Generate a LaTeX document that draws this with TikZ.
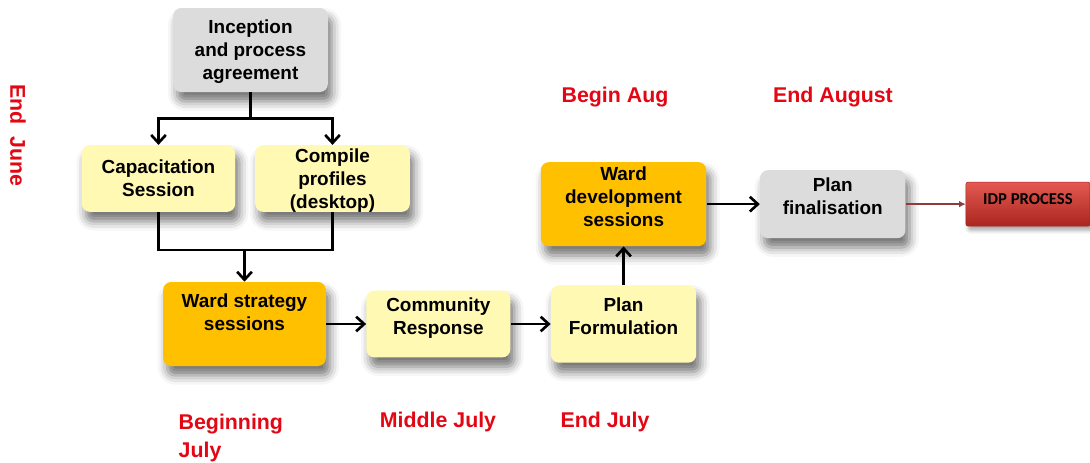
\documentclass[tikz,border=0pt]{standalone}
\usepackage{fontspec}
\setmainfont{Liberation Sans}
\newfontfamily\calibri{Carlito}
\usetikzlibrary{arrows.meta,positioning,shadows.blur}
\definecolor{stepgray}{HTML}{DCDCDC}
\definecolor{stepyellow}{HTML}{FFF9B4}
\definecolor{steporange}{HTML}{FFC000}
\definecolor{idptop}{HTML}{E45A52}
\definecolor{idpbottom}{HTML}{A9261F}
\definecolor{datered}{HTML}{E30613}
\definecolor{linkred}{HTML}{8E3B3B}

\begin{document}
\begin{tikzpicture}[x=0.75pt,y=-0.75pt,
  >={Straight Barb[length=6pt,width=11pt]},
  block/.style={rounded corners=6pt,align=center,inner sep=1pt,text depth=0pt,
                font=\bfseries\fontsize{14.2}{17.3}\selectfont,
                blur shadow={shadow xshift=3pt,shadow yshift=-7pt,
                             shadow blur radius=7pt,shadow opacity=55}},
  idp/.style={rounded corners=1.5pt,top color=idptop,bottom color=idpbottom,
              draw=idpbottom,minimum width=93pt,minimum height=33pt,
              text depth=8pt,font=\calibri\bfseries\fontsize{12.5}{14}\selectfont,
              blur shadow={shadow xshift=2pt,shadow yshift=-3pt,
                           shadow blur radius=3pt,shadow opacity=35}},
  date/.style={text=datered,font=\bfseries\fontsize{16}{21}\selectfont},
  line/.style={line width=2pt},
  flow/.style={->,line width=2pt},
  link/.style={-{Latex[length=5pt,width=5pt]},line width=1pt,linkred}
]
\useasboundingbox (0,0) rectangle (1090,462);

% top of the process
\node[block,fill=stepgray,minimum width=116pt,minimum height=63pt] (incep) at (250.5,50) {Inception\\and process\\agreement};
\node[block,fill=stepyellow,minimum width=115pt,minimum height=50pt] (capac) at (158.5,178.5) {Capacitation\\Session};
\node[block,fill=stepyellow,minimum width=116pt,minimum height=50pt,inner ysep=0pt] (compile) at (332.5,178.5) {Compile\\profiles\\(desktop)};

% ward chain
\node[block,fill=steporange,minimum width=122pt,minimum height=63pt,text depth=17.5pt] (strat) at (244.5,324) {Ward strategy\\sessions};
\node[block,fill=stepyellow,minimum width=108pt,minimum height=50pt,text depth=11.5pt,right=30pt of strat] (commun) {Community\\Response};
\node[block,fill=stepyellow,minimum width=109pt,minimum height=58pt,text depth=11.5pt,right=30pt of commun] (formul) {Plan\\Formulation};
\node[block,fill=steporange,minimum width=124pt,minimum height=63pt,text depth=11.5pt,above=29pt of formul] (devel) {Ward\\development\\sessions};
\node[block,fill=stepgray,minimum width=109pt,minimum height=51pt,text depth=11.5pt,right=40pt of devel] (final) {Plan\\finalisation};
\node[idp,right=45pt of final] (idp) {IDP PROCESS};

% dates
\node[date,rotate=-90] (junend) at (18,135) {End\ \ June};
\node[date] (augbeg) at (615,97) {Begin Aug};
\node[date] (augend) at (833,97) {End August};
\node[date,align=left,anchor=north west] (julbeg) at (174,409) {Beginning\\July};
\node[date] (julmid) at (438,422) {Middle July};
\node[date] (julend) at (605,422) {End July};

% connectors
\draw[line] (incep.south) -- ++(0,26) coordinate (split);
\draw[flow] (split) -| (capac.north);
\draw[flow] (split) -| (compile.north);
\coordinate (merge) at (244.5,250);
\draw[line] (capac.south) |- (merge) -| (compile.south);
\draw[flow] (merge) -- (strat.north);
\draw[flow] (strat) -- (commun);
\draw[flow] (commun) -- (formul);
\draw[flow] (formul) -- (devel);
\draw[flow] (devel) -- (final);
\draw[link] (final) -- (idp);
\end{tikzpicture}
\end{document}
